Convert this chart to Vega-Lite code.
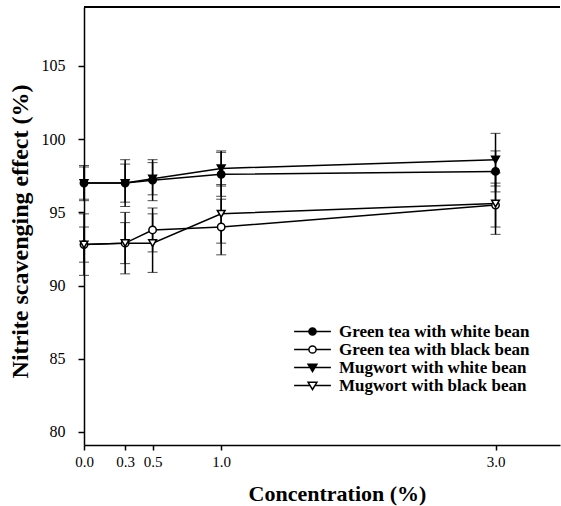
{
  "$schema": "https://vega.github.io/schema/vega-lite/v6.json",
  "width": 476,
  "height": 438,
  "autosize": {"type": "none"},
  "padding": {"left": 84, "top": 7, "right": 1, "bottom": 61},
  "background": "white",
  "config": {
    "view": {"stroke": null},
    "font": "Liberation Serif",
    "axis": {"domainColor": "black", "tickColor": "black", "domainWidth": 1.5, "tickWidth": 1.5, "labelColor": "black", "titleColor": "black", "grid": false, "labelFont": "Liberation Serif", "titleFont": "Liberation Serif"}
  },
  "data": {
    "values": [
      {"series": "Green tea with white bean", "conc": 0.0, "value": 97.0, "err": 1.2},
      {"series": "Green tea with white bean", "conc": 0.3, "value": 97.0, "err": 1.3},
      {"series": "Green tea with white bean", "conc": 0.5, "value": 97.2, "err": 1.4},
      {"series": "Green tea with white bean", "conc": 1.0, "value": 97.6, "err": 1.5},
      {"series": "Green tea with white bean", "conc": 3.0, "value": 97.8, "err": 1.4},
      {"series": "Green tea with black bean", "conc": 0.0, "value": 92.8, "err": 1.2},
      {"series": "Green tea with black bean", "conc": 0.3, "value": 92.9, "err": 1.4},
      {"series": "Green tea with black bean", "conc": 0.5, "value": 93.8, "err": 1.5},
      {"series": "Green tea with black bean", "conc": 1.0, "value": 94.0, "err": 1.9},
      {"series": "Green tea with black bean", "conc": 3.0, "value": 95.5, "err": 1.5},
      {"series": "Mugwort with white bean", "conc": 0.0, "value": 97.0, "err": 1.1},
      {"series": "Mugwort with white bean", "conc": 0.3, "value": 97.0, "err": 1.6},
      {"series": "Mugwort with white bean", "conc": 0.5, "value": 97.3, "err": 1.1},
      {"series": "Mugwort with white bean", "conc": 1.0, "value": 98.0, "err": 1.2},
      {"series": "Mugwort with white bean", "conc": 3.0, "value": 98.6, "err": 1.8},
      {"series": "Mugwort with black bean", "conc": 0.0, "value": 92.8, "err": 2.1},
      {"series": "Mugwort with black bean", "conc": 0.3, "value": 92.9, "err": 2.1},
      {"series": "Mugwort with black bean", "conc": 0.5, "value": 92.9, "err": 2.0},
      {"series": "Mugwort with black bean", "conc": 1.0, "value": 94.9, "err": 2.0},
      {"series": "Mugwort with black bean", "conc": 3.0, "value": 95.6, "err": 2.1}
    ]
  },
  "encoding": {
    "x": {
      "field": "conc", "type": "quantitative",
      "scale": {"domain": [0, 3.47], "nice": false, "zero": false},
      "axis": {"values": [0, 0.3, 0.5, 1, 3], "format": ".1f", "title": "Concentration (%)", "labelFontSize": 15, "labelFlush": false, "titleFontSize": 22, "titleFontWeight": "bold", "tickSize": 5, "labelPadding": 4, "titleX": 253, "titleY": 55, "titleBaseline": "alphabetic"}
    },
    "y": {
      "field": "value", "type": "quantitative",
      "scale": {"domain": [79.11, 109.03], "nice": false, "zero": false},
      "axis": {"values": [80, 85, 90, 95, 100, 105], "title": "Nitrite scavenging effect (%)", "labelFontSize": 16, "labelFlush": false, "titleFontSize": 24, "titleFontWeight": "bold", "tickSize": 6, "labelPadding": 13, "titleX": -64, "titleY": 224, "titleBaseline": "middle"}
    }
  },
  "layer": [
    {
      "mark": {"type": "rule", "color": "black", "strokeWidth": 1.5},
      "encoding": {"y": {"datum": 109.03}, "x": {"datum": 0}, "x2": {"datum": 3.47}}
    },
    {
      "mark": {"type": "errorbar", "ticks": {"size": 10, "strokeWidth": 1.5, "color": "black"}, "rule": {"strokeWidth": 1.5, "color": "black"}},
      "encoding": {"yError": {"field": "err"}, "detail": {"field": "series"}}
    },
    {
      "mark": {"type": "line", "color": "black", "strokeWidth": 1.5},
      "encoding": {"detail": {"field": "series"}}
    },
    {
      "transform": [{"filter": "datum.series === 'Green tea with white bean'"}],
      "mark": {"type": "point", "shape": "circle", "filled": true, "fill": "black", "stroke": "black", "strokeWidth": 1.5, "opacity": 1, "size": 55}
    },
    {
      "transform": [{"filter": "datum.series === 'Green tea with black bean'"}],
      "mark": {"type": "point", "shape": "circle", "filled": true, "fill": "white", "stroke": "black", "strokeWidth": 1.5, "opacity": 1, "size": 55}
    },
    {
      "transform": [{"filter": "datum.series === 'Mugwort with white bean'"}],
      "mark": {"type": "point", "shape": "triangle-down", "filled": true, "fill": "black", "stroke": "black", "strokeWidth": 1.5, "opacity": 1, "size": 60}
    },
    {
      "transform": [{"filter": "datum.series === 'Mugwort with black bean'"}],
      "mark": {"type": "point", "shape": "triangle-down", "filled": true, "fill": "white", "stroke": "black", "strokeWidth": 1.5, "opacity": 1, "size": 60}
    },
    {
      "mark": {"type": "point", "filled": true, "strokeWidth": 1.5, "opacity": 1, "size": 0},
      "encoding": {
        "shape": {"field": "series", "type": "nominal",
          "scale": {"domain": ["Green tea with white bean", "Green tea with black bean", "Mugwort with white bean", "Mugwort with black bean"],
            "range": [
              "M-4.6,0H4.6M-0.9,0A0.9,0.9,0,1,0,0.9,0A0.9,0.9,0,1,0,-0.9,0Z",
              "M-4.6,0H-0.9M0.9,0H4.6M-0.9,0A0.9,0.9,0,1,0,0.9,0A0.9,0.9,0,1,0,-0.9,0Z",
              "M-4.6,0H4.6M-1.1,-0.8L1.1,-0.8L0,1.0Z",
              "M-4.6,0H-0.6M0.6,0H4.6M-1.1,-0.8L1.1,-0.8L0,1.0Z"
            ]},
          "legend": {"title": null, "orient": "none", "legendX": 220, "legendY": 316, "padding": 0, "symbolSize": 64, "symbolOpacity": 1, "symbolStrokeWidth": 1.5, "labelFontSize": 17, "labelFontWeight": "bold", "labelFont": "Liberation Serif", "labelColor": "black", "labelOffset": 18, "rowPadding": 0, "labelLimit": 400}
        },
        "fill": {"field": "series", "type": "nominal",
          "scale": {"domain": ["Green tea with white bean", "Green tea with black bean", "Mugwort with white bean", "Mugwort with black bean"], "range": ["black", "white", "black", "white"]},
          "legend": {"title": null, "orient": "none", "legendX": 220, "legendY": 316, "padding": 0, "symbolSize": 64, "symbolOpacity": 1, "symbolStrokeWidth": 1.5, "labelFontSize": 17, "labelFontWeight": "bold", "labelFont": "Liberation Serif", "labelColor": "black", "labelOffset": 18, "rowPadding": 0, "labelLimit": 400}
        },
        "stroke": {"field": "series", "type": "nominal",
          "scale": {"domain": ["Green tea with white bean", "Green tea with black bean", "Mugwort with white bean", "Mugwort with black bean"], "range": ["black", "black", "black", "black"]},
          "legend": {"title": null, "orient": "none", "legendX": 220, "legendY": 316, "padding": 0, "symbolSize": 64, "symbolOpacity": 1, "symbolStrokeWidth": 1.5, "labelFontSize": 17, "labelFontWeight": "bold", "labelFont": "Liberation Serif", "labelColor": "black", "labelOffset": 18, "rowPadding": 0, "labelLimit": 400}
        }
      }
    }
  ]
}
